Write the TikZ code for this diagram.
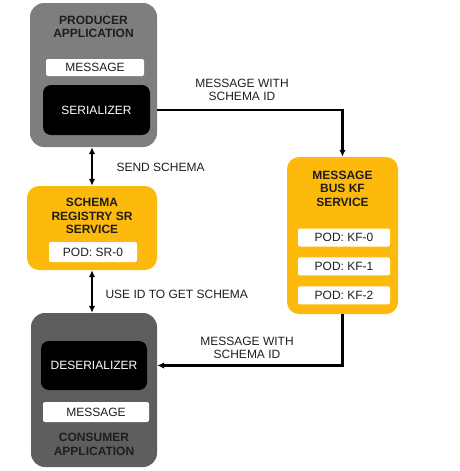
\documentclass[tikz,border=0pt]{standalone}
\usepackage{fontspec}
\setmainfont{Liberation Sans}
\usetikzlibrary{arrows.meta,positioning}
\definecolor{prodgray}{HTML}{7E7E7E}
\definecolor{consgray}{HTML}{5E5E5E}
\definecolor{svcyellow}{HTML}{FDBA0C}
\definecolor{inktext}{HTML}{1E1E1E}

\begin{document}
\begin{tikzpicture}[x=1pt, y=-1pt,
  every node/.style={font=\fontsize{12}{13.5}\selectfont, text=inktext, align=center},
  appbox/.style={rounded corners=14pt, minimum width=127pt, inner sep=0pt},
  svcbox/.style={fill=svcyellow, rounded corners=12pt, inner sep=0pt},
  title/.style={font=\fontsize{12}{13.5}\selectfont\bfseries},
  codecbox/.style={fill=black, text=white, rounded corners=8pt, minimum width=106pt, minimum height=49pt, inner sep=0pt},
  msgbox/.style={fill=white, rounded corners=2pt, minimum height=17pt, inner sep=0pt},
  podbox/.style={fill=white, rounded corners=2pt, minimum width=92pt, minimum height=18pt, inner sep=0pt},
  arr/.style={-{Latex[length=7pt,width=6.5pt]}, line width=2.2pt},
  dblarr/.style={{Latex[length=7pt,width=6.5pt]}-{Latex[length=7pt,width=6.5pt]}, line width=2.2pt},
  lbl/.style={text=inktext}
]
\useasboundingbox (0,0) rectangle (460,471);
\node[appbox, fill=prodgray, minimum height=144pt] (prod) at (93.5,75) {};
\node[title] (prodtitle) at (93.5,27) {PRODUCER\\APPLICATION};
\node[msgbox, minimum width=98pt] (msga) at (95,67.5) {MESSAGE};
\node[codecbox, minimum width=107pt, minimum height=50pt] (ser) at (96.5,110) {\textcolor{white}{SERIALIZER}};

\node[svcbox, minimum width=130pt, minimum height=84pt] (sr) at (92,228) {};
\node[title] (srtitle) at (92,216) {SCHEMA\\REGISTRY SR\\SERVICE};
\node[podbox, minimum width=88pt, minimum height=20pt] (podsr) at (93,252) {POD: SR-0};

\node[svcbox, minimum width=111pt, minimum height=157pt] (kf) at (342.5,235.5) {};
\node[title] (kftitle) at (342.5,188.5) {MESSAGE\\BUS KF\\SERVICE};
\node[podbox] (kf0) at (344,237.5) {POD: KF-0};
\node[podbox, below=10.5pt of kf0] (kf1) {POD: KF-1};
\node[podbox, below=10.5pt of kf1] (kf2) {POD: KF-2};

\node[appbox, fill=consgray, minimum width=126pt, minimum height=154pt] (cons) at (94,390) {};
\node[codecbox] (deser) at (94,365.5) {\textcolor{white}{DESERIALIZER}};
\node[msgbox, minimum width=106pt, minimum height=20pt] (msgb) at (96,412) {MESSAGE};
\node[title] (constitle) at (94,444.5) {CONSUMER\\APPLICATION};

\draw[arr] (prod.east |- ser.center) -| (kf.north);
\draw[arr] (kf.south) |- (cons.east |- deser.center);
\draw[dblarr] (sr.north) -- (sr.north |- prod.south);
\draw[dblarr] (sr.south) -- (sr.south |- cons.north);

\node[lbl] (sendlbl) at (242,90) {MESSAGE WITH\\SCHEMA ID};
\node[lbl, anchor=west] (schemalbl) at (113,167) {SEND SCHEMA};
\node[lbl, anchor=west] (uselbl) at (102,294) {USE ID TO GET SCHEMA};
\node[lbl] (recvlbl) at (247,348) {MESSAGE WITH\\SCHEMA ID};
\end{tikzpicture}
\end{document}
